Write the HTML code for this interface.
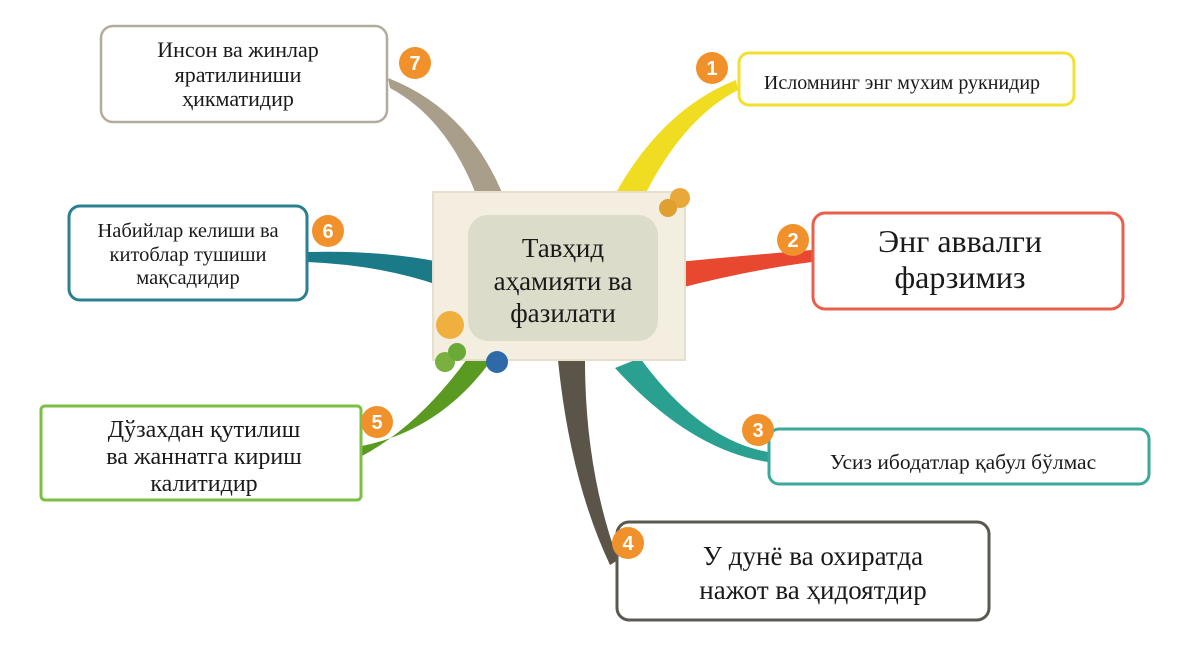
<!DOCTYPE html>
<html><head><meta charset="utf-8"><style>
html,body{margin:0;padding:0;background:#fff;}
svg text{font-family:"Liberation Serif",serif;fill:#1a1a1a;}
</style></head><body>
<svg width="1189" height="652" viewBox="0 0 1189 652" xmlns="http://www.w3.org/2000/svg">
<path d="M388,78 Q470,110 505,200 L480,205 Q450,120 390,88 Z" fill="#a89e8a"/>
<path d="M736,80 Q660,110 612,200 L640,205 Q680,120 738,90 Z" fill="#f0dc20"/>
<path d="M812,250 Q750,255 678,262 L680,288 Q750,270 812,262 Z" fill="#e84830"/>
<path d="M307,252 Q380,250 440,262 L438,285 Q380,265 307,262 Z" fill="#1a7a88"/>
<path d="M768,452 Q700,440 640,358 L615,368 Q690,450 768,462 Z" fill="#2aa090"/>
<path d="M618,560 Q585,470 585,360 L558,360 Q570,480 610,565 Z" fill="#5a5548"/>
<path d="M362,446 Q440,430 490,362 L470,355 Q420,425 362,456 Z" fill="#5a9a20"/>
<rect x="433" y="192" width="252" height="168" fill="#f3eee0" stroke="#e6dfcc" stroke-width="2"/>
<rect x="468" y="215" width="190" height="126" rx="20" fill="#dcdccb"/>
<text x="563" y="257" font-size="27" text-anchor="middle">Тавҳид</text>
<text x="563" y="290" font-size="27" text-anchor="middle">аҳамияти ва</text>
<text x="563" y="322" font-size="27" text-anchor="middle">фазилати</text>
<circle cx="680" cy="198" r="10" fill="#e9a83a"/><circle cx="668" cy="208" r="9" fill="#e0a030"/>
<circle cx="450" cy="325" r="14" fill="#f0b040"/>
<circle cx="445" cy="362" r="10" fill="#7ab040"/><circle cx="457" cy="352" r="9" fill="#6aa838"/>
<circle cx="497" cy="362" r="11" fill="#2e6aa8"/>
<rect x="101" y="26" width="286" height="96" rx="12" fill="#fff" stroke="#b3ab9c" stroke-width="2.5"/>
<text x="238" y="57" font-size="22" text-anchor="middle">Инсон ва жинлар</text>
<text x="238" y="82" font-size="22" text-anchor="middle">яратилиниши</text>
<text x="238" y="106" font-size="22" text-anchor="middle">ҳикматидир</text>
<rect x="69" y="206" width="238" height="94" rx="11" fill="#fff" stroke="#2a8090" stroke-width="3"/>
<text x="188" y="237" font-size="20.5" text-anchor="middle">Набийлар келиши ва</text>
<text x="188" y="261" font-size="20.5" text-anchor="middle">китоблар тушиши</text>
<text x="188" y="284" font-size="20.5" text-anchor="middle">мақсадидир</text>
<rect x="41" y="406" width="320" height="94" rx="4" fill="#fff" stroke="#7bc043" stroke-width="3"/>
<text x="204" y="437" font-size="24" text-anchor="middle">Дўзахдан қутилиш</text>
<text x="204" y="464" font-size="24" text-anchor="middle">ва жаннатга кириш</text>
<text x="204" y="491" font-size="24" text-anchor="middle">калитидир</text>
<rect x="739" y="53" width="335" height="52" rx="10" fill="#fff" stroke="#f2e030" stroke-width="3"/>
<text x="902" y="89" font-size="20" text-anchor="middle">Исломнинг энг мухим рукнидир</text>
<rect x="813" y="213" width="310" height="96" rx="12" fill="#fff" stroke="#e8604c" stroke-width="3"/>
<text x="960" y="252" font-size="32" text-anchor="middle">Энг аввалги</text>
<text x="960" y="288" font-size="32" text-anchor="middle">фарзимиз</text>
<rect x="769" y="429" width="380" height="55" rx="10" fill="#fff" stroke="#3aa89a" stroke-width="3"/>
<text x="963" y="469" font-size="21.5" text-anchor="middle">Усиз ибодатлар қабул бўлмас</text>
<rect x="617" y="522" width="372" height="98" rx="12" fill="#fff" stroke="#5a5850" stroke-width="3"/>
<text x="813" y="565" font-size="27" text-anchor="middle">У дунё ва охиратда</text>
<text x="813" y="599" font-size="27" text-anchor="middle">нажот ва ҳидоятдир</text>
<g font-weight="bold" font-size="20" text-anchor="middle">
<circle cx="415" cy="63" r="16" fill="#f0912c"/><text x="415" y="70" style="font-family:'Liberation Sans';fill:#fff">7</text>
<circle cx="328" cy="231" r="16" fill="#f0912c"/><text x="328" y="238" style="font-family:'Liberation Sans';fill:#fff">6</text>
<circle cx="377" cy="422" r="16" fill="#f0912c"/><text x="377" y="429" style="font-family:'Liberation Sans';fill:#fff">5</text>
<circle cx="712" cy="68" r="16" fill="#f0912c"/><text x="712" y="75" style="font-family:'Liberation Sans';fill:#fff">1</text>
<circle cx="793" cy="240" r="16" fill="#f0912c"/><text x="793" y="247" style="font-family:'Liberation Sans';fill:#fff">2</text>
<circle cx="758" cy="430" r="16" fill="#f0912c"/><text x="758" y="437" style="font-family:'Liberation Sans';fill:#fff">3</text>
<circle cx="628" cy="543" r="16" fill="#f0912c"/><text x="628" y="550" style="font-family:'Liberation Sans';fill:#fff">4</text>
</g>
</svg>
</body></html>
